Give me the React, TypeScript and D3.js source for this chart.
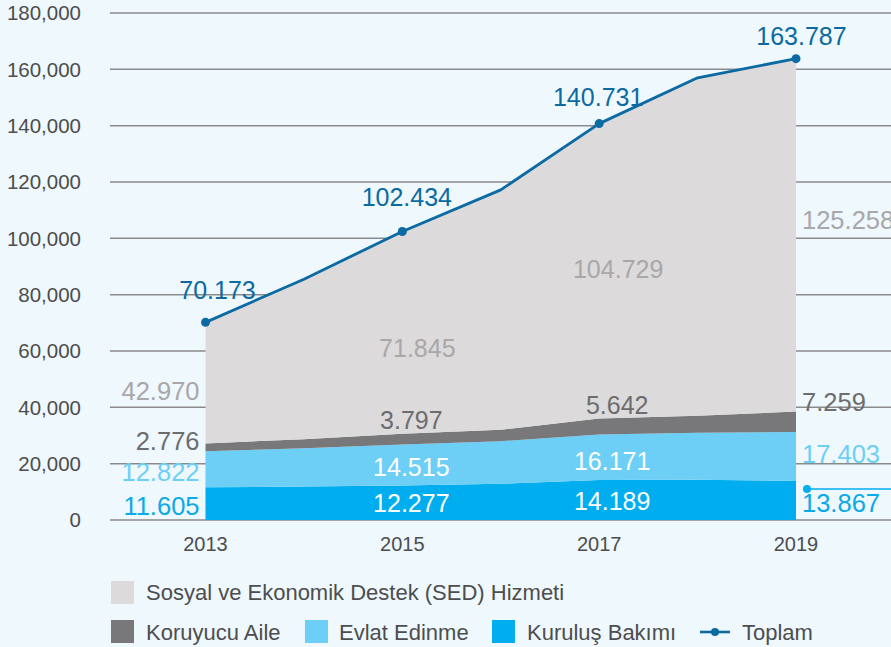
import React from "react";
import * as d3 from "d3";

// ---------- DATA ----------
const years = [2013, 2014, 2015, 2016, 2017, 2018, 2019];
const kurulusBakimi = [11605, 11900, 12277, 12900, 14189, 14300, 13867];
const evlatEdinme = [12822, 13600, 14515, 15100, 16171, 16700, 17403];
const koruyucuAile = [2776, 3200, 3797, 4000, 5642, 6000, 7259];
const sedHizmeti = [42970, 56800, 71845, 85200, 104729, 120000, 125258];
const labeledYears = [2013, 2015, 2017, 2019];
const yTicks = [0, 20000, 40000, 60000, 80000, 100000, 120000, 140000, 160000, 180000];
const seriesNames = ["Kuruluş Bakımı", "Evlat Edinme", "Koruyucu Aile", "Sosyal ve Ekonomik Destek (SED) Hizmeti"];
const totalName = "Toplam";

// ---------- STYLE ----------
const W = 891, H = 647;
const BG = "#eef8fd";
const colors = ["#00aeef", "#6dcff6", "#78777a", "#dcdadb"];
const labelColorsOuter = ["#0aa9e8", "#6dcff6", "#6d6c6f", "#a9a7a9"];
const labelColorsInner = ["#ffffff", "#ffffff", "#6d6c6f", "#a9a7a9"];
const LINE = "#0b6aa2";
const TEXT = "#4d4d4f";
const FONT = "'Liberation Sans', Arial, Helvetica, sans-serif";

const fmtTick = d3.format(",");
const fmtVal = (v: number) => d3.format(",")(v).replace(/,/g, ".");

// per-label vertical offsets (px) from the layer midpoint, per series, for labelled years
const labelDy: number[][] = [
  [11, 9, 10, 0],
  [12, 11, 13, 0],
  [3, -10, -13, 0],
  [17, 24, 7, 0],
];
const labelDx = [0, 9, 13, 0];
// right side (2019) outside label baselines expressed as offsets from layer mid
const rightDy = [12, 7, -11, 0];

export default function App() {
  const x = d3.scaleLinear().domain([2013, 2019]).range([205.5, 796]);
  const y = d3.scaleLinear().domain([0, 180000]).range([520, 13]);

  const table = years.map((yr, i) => ({
    year: yr,
    k: kurulusBakimi[i],
    e: evlatEdinme[i],
    a: koruyucuAile[i],
    s: sedHizmeti[i],
  }));
  const keys = ["k", "e", "a", "s"];
  const stacked = d3.stack<any>().keys(keys)(table);
  const area = d3
    .area<any>()
    .x((d) => x(d.data.year))
    .y0((d) => y(d[0]))
    .y1((d) => y(d[1]));

  const totals = table.map((d) => d.k + d.e + d.a + d.s);
  const line = d3
    .line<number>()
    .x((_, i) => x(years[i]))
    .y((d) => y(d));

  const totalOffsets = [
    { dx: 12, dy: -23 },
    { dx: 4.5, dy: -25 },
    { dx: -1, dy: -18 },
    { dx: 5.5, dy: -14 },
  ];

  const legendRow2 = [
    { name: seriesNames[2], color: colors[2], sx: 111, tx: 146 },
    { name: seriesNames[1], color: colors[1], sx: 305, tx: 339 },
    { name: seriesNames[0], color: colors[0], sx: 492, tx: 527 },
  ];

  return (
    <svg
      width={W}
      height={H}
      style={{ position: "absolute", left: 0, top: 0, display: "block" }}
      fontFamily={FONT}
    >
      <rect x={0} y={0} width={W} height={H} fill={BG} />
      {/* gridlines */}
      {yTicks.map((t) => (
        <g key={t}>
          <line x1={110} x2={W} y1={y(t)} y2={y(t)} stroke="#8a8a8a" strokeWidth={1.5} />
          <text x={81} y={y(t)} dy="0.36em" textAnchor="end" fontSize={20.5} fill={TEXT}>
            {fmtTick(t)}
          </text>
        </g>
      ))}
      {/* areas */}
      {stacked.map((s, i) => (
        <path key={s.key} d={area(s) || ""} fill={colors[i]} />
      ))}
      {/* total line */}
      <path d={line(totals) || ""} fill="none" stroke={LINE} strokeWidth={2.8} strokeLinejoin="round" />
      {labeledYears.map((yr, j) => {
        const i = years.indexOf(yr);
        return (
          <g key={yr}>
            <circle cx={x(yr)} cy={y(totals[i])} r={4.5} fill={LINE} />
            <text
              x={x(yr) + totalOffsets[j].dx}
              y={y(totals[i]) + totalOffsets[j].dy}
              textAnchor="middle"
              fontSize={25}
              fill={LINE}
            >
              {fmtVal(totals[i])}
            </text>
          </g>
        );
      })}
      {/* series value labels */}
      {stacked.map((s, si) =>
        labeledYears.map((yr, j) => {
          const i = years.indexOf(yr);
          const d = s[i];
          const mid = y((d[0] + d[1]) / 2);
          const val = [kurulusBakimi, evlatEdinme, koruyucuAile, sedHizmeti][si][i];
          if (j === 0) {
            return (
              <text key={s.key + yr} x={x(yr) - 6} y={mid + labelDy[si][0]} textAnchor="end" fontSize={25.5} fill={labelColorsOuter[si]}>
                {fmtVal(val)}
              </text>
            );
          }
          if (j === 3) {
            const baseline = si === 3 ? y(d[1]) + 170 : mid + rightDy[si];
            return (
              <text key={s.key + yr} x={x(yr) + 6} y={baseline} textAnchor="start" fontSize={25.5} fill={labelColorsOuter[si]}>
                {fmtVal(val)}
              </text>
            );
          }
          return (
            <text
              key={s.key + yr}
              x={x(yr) + labelDx[j] + (si === 3 ? 6 : 0) + (si === 2 && j === 2 ? 5 : 0)}
              y={mid + labelDy[si][j]}
              textAnchor="middle"
              fontSize={25}
              fill={labelColorsInner[si]}
            >
              {fmtVal(val)}
            </text>
          );
        })
      )}
      {/* leader at the right */}
      <circle cx={x(2019) + 11} cy={y(kurulusBakimi[6]) + 8} r={4} fill={colors[0]} />
      <line x1={x(2019) + 11} x2={W} y1={y(kurulusBakimi[6]) + 8} y2={y(kurulusBakimi[6]) + 8} stroke={colors[0]} strokeWidth={1.5} />
      {/* x axis labels */}
      {labeledYears.map((yr) => (
        <text key={yr} x={x(yr)} y={551} textAnchor="middle" fontSize={20} fill={TEXT}>
          {yr}
        </text>
      ))}
      {/* legend */}
      <rect x={111} y={581} width={23} height={23} fill={colors[3]} />
      <text x={146} y={600} fontSize={22} fill={TEXT}>
        {seriesNames[3]}
      </text>
      {legendRow2.map((l) => (
        <g key={l.name}>
          <rect x={l.sx} y={620} width={23} height={23} fill={l.color} />
          <text x={l.tx} y={640} fontSize={22} fill={TEXT}>
            {l.name}
          </text>
        </g>
      ))}
      <line x1={700} x2={730} y1={632} y2={632} stroke={LINE} strokeWidth={2.6} />
      <circle cx={715} cy={632} r={4} fill={LINE} />
      <text x={742} y={640} fontSize={22} fill={TEXT}>
        {totalName}
      </text>
    </svg>
  );
}
